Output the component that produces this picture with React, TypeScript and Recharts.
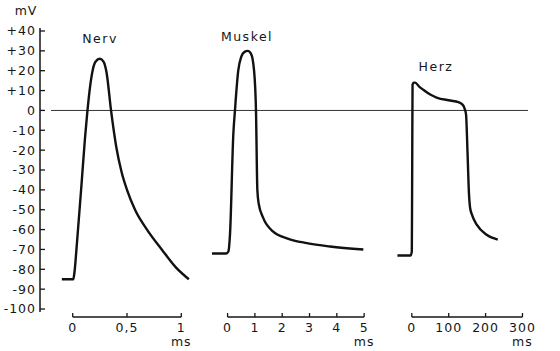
import React from 'react'
import { Line, LineChart, ReferenceLine, XAxis, YAxis } from 'recharts'

const FONT = '"DejaVu Sans", Arial, sans-serif'
const INK = '#161616'

// shared voltage axis (mV)
const mvTicks = [40, 30, 20, 10, 0, -10, -20, -30, -40, -50, -60, -70, -80, -90, -100]
const MV_MIN = -104
const MV_MAX = 40

// Nerv, time in ms
const nerveTime = [-0.1, -0.02, 0.005, 0.015, 0.04, 0.08, 0.113, 0.136, 0.16, 0.185, 0.21, 0.25, 0.285, 0.312, 0.353, 0.4, 0.45, 0.5, 0.574, 0.684, 0.82, 0.95, 1.07]
const nerveMv = [-85, -85, -85, -82, -66, -38, -14, 0, 12, 20.5, 24.5, 26, 24.5, 19, 0, -18, -31, -40, -50, -60, -70, -79, -85]
const nerveTicks = [0, 0.5, 1]

// Muskel, time in ms
const muscleTime = [-0.57, -0.05, 0.03, 0.09, 0.21, 0.27, 0.39, 0.5, 0.62, 0.74, 0.86, 0.97, 1.04, 1.09, 1.14, 1.3, 1.67, 2.2, 2.9, 3.75, 4.97]
const muscleMv = [-72, -72, -71, -62, -12, 0, 20, 27, 29.5, 30, 28.5, 20, 0, -40, -47, -54, -61, -64.5, -66.8, -68.5, -70]
const muscleTicks = [0, 1, 2, 3, 4, 5]

// Herz, time in ms
const heartTime = [-39, -3, 0, 1, 2, 5, 9, 20, 31, 50, 67, 104, 126, 136, 142, 147, 151, 155, 158, 163, 176, 203, 233]
const heartMv = [-73, -73, -71, -30, 13, 14, 14, 12, 10.4, 8, 6.5, 5, 4.2, 3.2, 1.5, -2, -21, -42, -49, -52.5, -57.5, -62.6, -65]
const heartTicks = [0, 100, 200, 300]

const toRows = (t: number[], v: number[]) => t.map((x, i) => ({ t: x, v: v[i] }))

function XTick({ x, y, payload, last }: any) {
  const label = String(payload.value).replace('.', ',')
  return (
    <g>
      <text x={x} y={y} dy={13} textAnchor="middle" fontSize={12.5} fill={INK} fontFamily={FONT} letterSpacing={1}>
        {label}
      </text>
      {payload.value === last && (
        <text x={x} y={y} dy={26.5} textAnchor="middle" fontSize={12.5} fill={INK} fontFamily={FONT} letterSpacing={1}>
          ms
        </text>
      )}
    </g>
  )
}

interface PanelProps {
  title: string
  titleX: number
  titleY: number
  rows: { t: number; v: number }[]
  ticks: number[]
  domain: [number, number]
  left: number
  width: number
  right?: number
}

function Panel({ title, titleX, titleY, rows, ticks, domain, left, width, right = 0 }: PanelProps) {
  const last = ticks[ticks.length - 1]
  return (
    <div style={{ position: 'absolute', left, top: 0 }}>
      <LineChart width={width} height={351} data={rows} margin={{ top: 31, right, bottom: 0, left: 0 }}>
        <XAxis
          type="number"
          dataKey="t"
          domain={domain}
          allowDataOverflow
          ticks={ticks}
          interval={0}
          axisLine={false}
          tickSize={-4}
          tickMargin={6}
          height={34}
          tickLine={{ stroke: INK, strokeWidth: 1.3 }}
          tick={(p: any) => <XTick {...p} last={last} />}
        />
        <YAxis hide type="number" domain={[MV_MIN, MV_MAX]} allowDataOverflow />
        <ReferenceLine y={0} stroke="#333" strokeWidth={1} />
        <ReferenceLine
          segment={[{ x: ticks[0], y: MV_MIN }, { x: last, y: MV_MIN }]}
          stroke={INK}
          strokeWidth={1.4}
          ifOverflow="visible"
        />
        <Line
          type="monotone"
          dataKey="v"
          stroke="#111"
          strokeWidth={2.4}
          dot={false}
          strokeLinejoin="round"
          isAnimationActive={false}
        />
        <text x={titleX} y={titleY} textAnchor="middle" fontSize={12.5} fill={INK} fontFamily={FONT} letterSpacing={1.5}>
          {title}
        </text>
      </LineChart>
    </div>
  )
}

export default function App() {
  return (
    <div style={{ position: 'absolute', left: 0, top: 0, width: 560, height: 351, background: '#fff', fontFamily: FONT }}>
      <div style={{ position: 'absolute', left: 0, top: 0 }}>
        <LineChart width={50} height={351} data={[]} margin={{ top: 28, right: 0, bottom: 39, left: 0 }}>
          <XAxis hide type="number" domain={[0, 1]} />
          <YAxis
            type="number"
            width={40}
            domain={[-101.5, 41.5]}
            allowDataOverflow
            ticks={mvTicks}
            interval={0}
            tickSize={-5}
            tickMargin={9}
            axisLine={{ stroke: INK, strokeWidth: 1.5 }}
            tickLine={{ stroke: INK, strokeWidth: 1.3 }}
            tick={{ fontSize: 12.5, fill: INK, fontFamily: FONT, letterSpacing: 1 }}
            tickFormatter={(v: number) => (v > 0 ? `+${v}` : `${v}`)}
          />
          <text x={26} y={15} textAnchor="middle" fontSize={12.5} fill={INK} fontFamily={FONT} letterSpacing={1}>
            mV
          </text>
        </LineChart>
      </div>
      <Panel title="Nerv" titleX={49} titleY={43} rows={toRows(nerveTime, nerveMv)} ticks={nerveTicks} domain={[-0.2, 1.2]} left={51} width={152} />
      <Panel title="Muskel" titleX={44} titleY={40.5} rows={toRows(muscleTime, muscleMv)} ticks={muscleTicks} domain={[-0.9, 5.8]} left={203} width={183} />
      <Panel title="Herz" titleX={50} titleY={70.5} rows={toRows(heartTime, heartMv)} ticks={heartTicks} domain={[-70, 315]} left={386} width={174} right={32} />
    </div>
  )
}
